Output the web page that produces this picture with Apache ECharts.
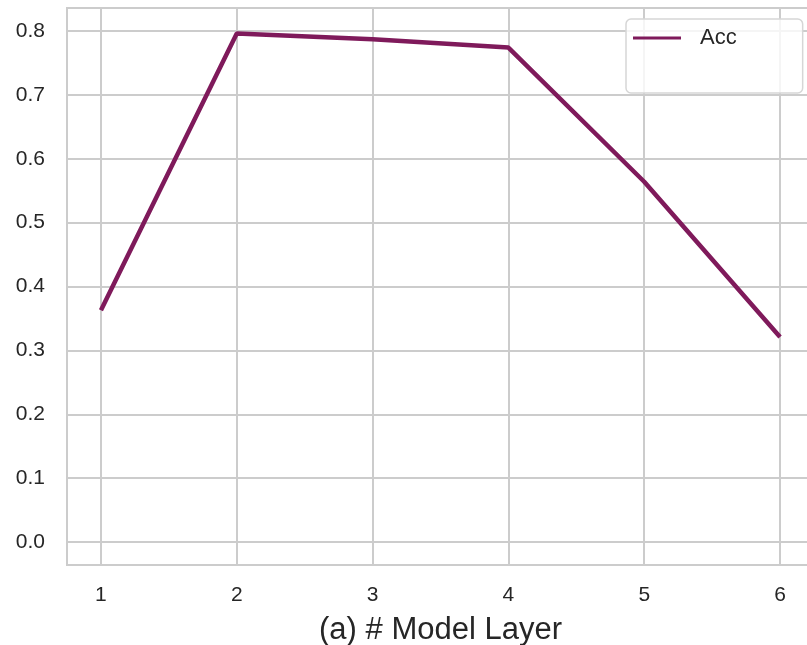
<!DOCTYPE html>
<html>
<head>
<meta charset="utf-8">
<script src="https://cdn.jsdelivr.net/npm/echarts@6/dist/echarts.min.js"></script>
<style>
html,body{margin:0;padding:0;background:#fff;overflow:hidden;width:807px;height:645px;}
#chart{width:814px;height:645px;}
</style>
</head>
<body>
<div id="chart"></div>
<script>
// Data
const layers = [1, 2, 3, 4, 5, 6];
const accValues = [0.363, 0.796, 0.787, 0.774, 0.564, 0.321];
const seriesName = 'Acc';
const xAxisTitle = '(a) # Model Layer';

const chart = echarts.init(document.getElementById('chart'), null, {renderer: 'canvas'});
const FONT = '"Liberation Sans", Arial, sans-serif';
const GRID = '#cccccc';
const LINE = '#7f1a5b';

const option = {
  backgroundColor: '#ffffff',
  animation: false,
  grid: {
    show: true,
    left: 67, top: 8, right: 0, bottom: 80,
    outerBoundsMode: 'none',
    containLabel: false,
    borderColor: GRID, borderWidth: 2,
    backgroundColor: 'transparent'
  },
  legend: {
    data: [seriesName],
    left: 626, top: 19,
    orient: 'vertical',
    padding: [8, 66, 44, 7],
    icon: 'rect',
    itemWidth: 48, itemHeight: 3,
    backgroundColor: 'rgba(255,255,255,0.8)',
    borderColor: '#d6d6d6', borderWidth: 1.5, borderRadius: 5,
    textStyle: {fontFamily: FONT, fontSize: 22, color: '#262626', padding: [0, 0, 0, 14], lineHeight: 20}
  },
  xAxis: {
    type: 'value',
    min: 0.75, max: 6.25,
    name: xAxisTitle,
    nameLocation: 'middle',
    nameGap: 50,
    nameTextStyle: {fontFamily: FONT, fontSize: 31, color: '#262626'},
    axisLine: {show: false},
    axisTick: {show: false},
    axisLabel: {
      fontFamily: FONT, fontSize: 21, color: '#262626', margin: 20,
      showMinLabel: false, showMaxLabel: false,
      formatter: v => (layers.indexOf(v) >= 0 ? String(v) : '')
    },
    splitLine: {show: true, lineStyle: {color: GRID, width: 2}}
  },
  yAxis: {
    type: 'value',
    min: -0.036, max: 0.836,
    splitNumber: 8,
    axisLine: {show: false},
    axisTick: {show: false},
    axisLabel: {
      fontFamily: FONT, fontSize: 21, color: '#262626', margin: 22,
      showMinLabel: false, showMaxLabel: false,
      formatter: v => {
        const r = Math.round(v * 10) / 10;
        return Math.abs(r - v) < 1e-6 ? r.toFixed(1) : '';
      }
    },
    splitLine: {show: true, lineStyle: {color: GRID, width: 2}}
  },
  series: [{
    name: seriesName,
    type: 'line',
    data: layers.map((x, i) => [x, accValues[i]]),
    symbol: 'none',
    lineStyle: {color: LINE, width: 4.5},
    itemStyle: {color: LINE},
    z: 5
  }]
};
chart.setOption(option);
</script>
</body>
</html>
